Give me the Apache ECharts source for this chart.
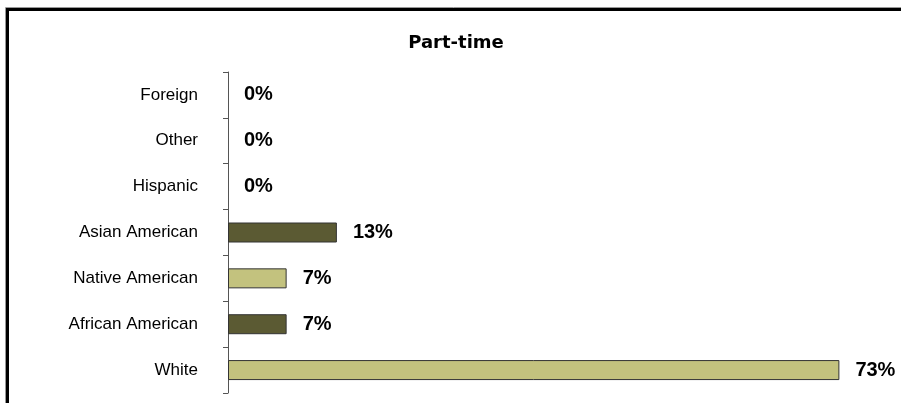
<!DOCTYPE html>
<html>
<head>
<meta charset="utf-8">
<script src="https://cdn.jsdelivr.net/npm/echarts@6/dist/echarts.min.js"></script>
<style>
html,body{margin:0;padding:0;background:#fff;}
#main{width:901px;height:403px;}
</style>
</head>
<body>
<div id="main"></div>
<script>
const categories = ['White', 'African American', 'Native American', 'Asian American', 'Hispanic', 'Other', 'Foreign'];
const values = [73, 7, 7, 13, 0, 0, 0];
const titleText = 'Part-time';

const lightColor = '#c3c27e';
const darkColor = '#5b5a33';

const chart = echarts.init(document.getElementById('main'), null, {renderer: 'canvas'});
chart.setOption({
  animation: false,
  backgroundColor: '#fff',
  title: {
    text: titleText,
    left: 451,
    textAlign: 'center',
    top: 29,
    textStyle: {fontFamily: 'DejaVu Sans', fontWeight: 'bold', fontSize: 18, color: '#000'}
  },
  graphic: [
    {type: 'rect', shape: {x: 5.5, y: 7.5, width: 920, height: 420}, style: {fill: 'none', stroke: '#999', lineWidth: 1}, silent: true},
    {type: 'rect', shape: {x: 7.5, y: 9.5, width: 920, height: 420}, style: {fill: 'none', stroke: '#000', lineWidth: 3}, silent: true}
  ],
  grid: {left: 228, top: 72, bottom: 10, width: 670, containLabel: false},
  xAxis: {
    type: 'value', min: 0, max: 80, show: false
  },
  yAxis: {
    type: 'category',
    data: categories,
    axisLine: {show: true, lineStyle: {color: '#555', width: 1}},
    axisTick: {show: true, length: 5, lineStyle: {color: '#555'}},
    axisLabel: {margin: 30, fontFamily: 'Liberation Sans, Arial', fontSize: 17, color: '#000'}
  },
  series: [{
    type: 'bar',
    data: values.map((v, i) => ({
      value: v,
      itemStyle: {color: i % 2 === 0 ? lightColor : darkColor, borderWidth: v === 0 ? 0 : 1}
    })),
    barWidth: 20,
    itemStyle: {borderColor: '#333', borderWidth: 1},
    label: {
      show: true, position: 'right', distance: 16,
      formatter: p => p.value + '%',
      fontFamily: 'Liberation Sans, Arial', fontWeight: 'bold', fontSize: 20, color: '#000'
    }
  }]
});
</script>
</body>
</html>
